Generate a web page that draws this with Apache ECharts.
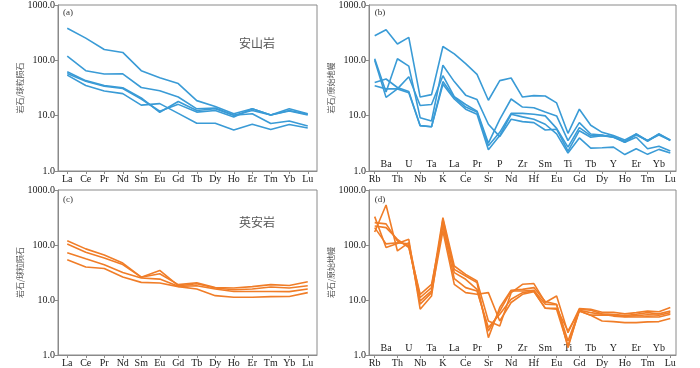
<!DOCTYPE html>
<html>
<head>
<meta charset="utf-8">
<script src="https://cdn.jsdelivr.net/npm/echarts@6/dist/echarts.min.js"></script>
<style>
  html, body { margin: 0; padding: 0; background: #fff; }
  #chart { width: 700px; height: 368px; }
</style>
</head>
<body>
<div id="chart"></div>
<script>
// 稀土元素 (a)(c)
var reeElements = ["La", "Ce", "Pr", "Nd", "Sm", "Eu", "Gd", "Tb", "Dy", "Ho", "Er", "Tm", "Yb", "Lu"];
// 微量元素蛛网图 (b)(d)
var traceElements = ["Rb", "Ba", "Th", "U", "Nb", "Ta", "K", "La", "Ce", "Pr", "Sr", "P", "Nd", "Zr", "Hf",
  "Sm", "Eu", "Ti", "Gd", "Tb", "Dy", "Y", "Ho", "Er", "Tm", "Yb", "Lu"];
var yTickLabels = ["1.0", "10.0", "100.0", "1000.0"];

// (a) 安山岩 球粒陨石标准化
var andesiteRee = [
  [380, 252, 157, 139, 65, 48.6, 38, 18.7, 14.7, 10.8, 13.3, 10.3, 13.3, 10.8],
  [119, 65, 56.5, 57, 32.3, 28.2, 21.7, 13.3, 13.8, 10.2, 10.8, 7.2, 8.0, 6.5],
  [62, 43, 35, 32, 21, 11.5, 18, 12.4, 13.3, 10.2, 12.4, 10.3, 12.4, 10.6],
  [58, 42, 34, 31, 20, 12, 16, 11.6, 12.4, 9.5, 13.3, 10.3, 12.1, 10.3],
  [54, 35, 28, 25, 15.5, 16.5, 11, 7.3, 7.3, 5.5, 7.0, 5.6, 6.9, 6.0]
];
// (b) 安山岩 原始地幔标准化
var andesiteTrace = [
  [278, 356, 197, 260, 21.7, 24, 178, 131, 87, 55.6, 19, 43, 48, 21.7, 23, 22.7, 17, 4.8, 13.1, 6.7, 5.0, 4.36, 3.65, 4.67, 3.55, 4.67, 3.65],
  [107, 26.7, 107, 78.4, 9.2, 8.0, 81.6, 41.3, 23.5, 19.5, 7.0, 4.18, 8.6, 7.8, 7.5, 5.5, 5.7, 2.29, 5.35, 4.07, 4.36, 4.07, 3.31, 4.07, 2.53, 2.81, 2.29],
  [100, 21.4, 30.5, 50.6, 15.3, 15.9, 52.7, 22, 15.9, 12.1, 3.18, 8.6, 20, 14.3, 13.9, 11.6, 9.9, 3.55, 7.5, 4.67, 4.48, 4.07, 3.45, 4.48, 3.55, 4.48, 3.6],
  [39.6, 46, 32.3, 27.4, 6.6, 6.3, 41.3, 21.4, 14.3, 11.6, 2.86, 5.0, 11.0, 11.0, 10.6, 9.9, 5.9, 2.7, 6.1, 4.36, 4.36, 4.18, 3.31, 4.67, 3.45, 4.67, 3.55],
  [34.6, 30.5, 30.5, 26, 6.6, 6.3, 37, 20, 13.1, 10.6, 2.43, 4.36, 10.6, 9.5, 8.6, 7.0, 4.67, 2.11, 3.96, 2.59, 2.63, 2.7, 1.98, 2.53, 2.0, 2.46, 2.11]
];
// (c) 英安岩 球粒陨石标准化
var daciteRee = [
  [120, 85, 66, 47, 26, 30, 19, 20.6, 16.9, 16.5, 17.5, 19, 18.4, 21.5],
  [104, 74, 58, 44, 26, 34.4, 18.2, 19.8, 16.5, 15.4, 15.8, 17.2, 16.5, 18.2],
  [72, 56, 43.7, 31.7, 25.1, 24, 17.7, 18.2, 15.8, 14.3, 14.3, 14.3, 14.2, 15.8],
  [53.8, 39.7, 37.4, 26.1, 20.9, 20.4, 17.5, 15.8, 12, 11.2, 11.2, 11.5, 11.6, 13.6]
];
// (d) 英安岩 原始地幔标准化
var daciteTrace = [
  [172, 533, 78, 110, 11.1, 16.8, 315, 41.5, 29.3, 22.2, 4.15, 3.37, 13.6, 19.3, 19.9, 9.0, 11.8, 2.55, 7.0, 6.8, 6.0, 6.0, 5.6, 5.9, 6.3, 6.1, 7.3],
  [328, 90, 106, 127, 6.8, 11.8, 293, 36.1, 27.3, 20.7, 2.07, 7.3, 15, 15.6, 16.8, 9.4, 8.4, 1.36, 6.8, 6.5, 5.6, 5.5, 5.2, 5.5, 5.9, 5.6, 6.3],
  [255, 242, 118, 96, 9.6, 14.6, 255, 31.5, 23.8, 15.6, 2.73, 6.3, 14.6, 14.6, 15, 8.4, 8.2, 1.8, 6.5, 5.9, 5.5, 5.1, 4.9, 4.9, 4.95, 4.9, 5.5],
  [221, 207, 127, 90, 12.7, 19.3, 221, 24.5, 16.8, 14.6, 3.15, 5.5, 10.3, 13.6, 14.6, 7.1, 7.1, 2.73, 6.3, 5.3, 4.15, 4.05, 3.88, 3.88, 4.0, 4.05, 4.6],
  [207, 105, 110, 105, 8.4, 13.6, 180, 19.3, 13.6, 12.7, 13.6, 4.15, 9.0, 12.7, 14.2, 7.1, 6.8, 1.47, 6.3, 5.3, 5.3, 5.3, 5.0, 5.2, 5.4, 5.3, 5.9]
];

var blue = "#3a9bd6";
var orange = "#f07d28";
var frameColor = "#8a8a8a";
var textColor = "#1a1a1a";
var serif = "'Liberation Serif', 'DejaVu Serif', serif";
var cjk = "'Noto Sans CJK SC', sans-serif";

// 四个图的位置
var grids = [
  { left: 58, top: 2, width: 259, height: 169 },
  { left: 369, top: 2, width: 307, height: 169 },
  { left: 58, top: 190, width: 259, height: 166 },
  { left: 369, top: 190, width: 307, height: 165 }
];

function catAxis(gridIndex, data, opts) {
  var axis = {
    type: "category",
    gridIndex: gridIndex,
    position: "bottom",
    data: data,
    boundaryGap: true,
    axisLine: { show: true, onZero: false, lineStyle: { color: frameColor, width: 1 } },
    axisTick: { show: true, alignWithLabel: true, length: 3, lineStyle: { color: frameColor } },
    axisLabel: { color: textColor, fontFamily: serif, fontSize: 10, margin: 3 },
    splitLine: { show: false }
  };
  if (opts) {
    for (var k in opts) axis[k] = opts[k];
  }
  return axis;
}

function logAxis(gridIndex, name, gap) {
  return {
    type: "log",
    logBase: 10,
    gridIndex: gridIndex,
    min: 1,
    max: 1000,
    name: name,
    nameLocation: "middle",
    nameGap: gap,
    nameRotate: 90,
    nameTextStyle: { color: "#555", fontFamily: cjk, fontSize: 8 },
    axisLine: { show: true, lineStyle: { color: frameColor, width: 1 } },
    axisTick: { show: true, length: 3, lineStyle: { color: frameColor } },
    axisLabel: {
      color: textColor, fontFamily: serif, fontSize: 10, margin: 3,
      formatter: function (v) {
        var i = Math.round(Math.log10(v));
        return yTickLabels[i];
      }
    },
    splitLine: { show: false }
  };
}

var xAxes = [
  catAxis(0, reeElements),
  // 蛛网图：下排标签
  catAxis(1, traceElements, {
    axisLabel: { color: textColor, fontFamily: serif, fontSize: 10, margin: 3,
      interval: function (i) { return i % 2 === 0; } }
  }),
  // 蛛网图：上排标签（在坐标区内）
  catAxis(1, traceElements, {
    axisLine: { show: false, onZero: false },
    axisTick: { show: false },
    axisLabel: { color: textColor, fontFamily: serif, fontSize: 10, margin: 2, inside: true,
      interval: function (i) { return i % 2 === 1; } }
  }),
  catAxis(2, reeElements),
  catAxis(3, traceElements, {
    axisLabel: { color: textColor, fontFamily: serif, fontSize: 10, margin: 3,
      interval: function (i) { return i % 2 === 0; } }
  }),
  catAxis(3, traceElements, {
    axisLine: { show: false, onZero: false },
    axisTick: { show: false },
    axisLabel: { color: textColor, fontFamily: serif, fontSize: 10, margin: 2, inside: true,
      interval: function (i) { return i % 2 === 1; } }
  })
];

var yAxes = [
  logAxis(0, "岩石/球粒陨石", 32),
  logAxis(1, "岩石/原始地幔", 28),
  logAxis(2, "岩石/球粒陨石", 32),
  logAxis(3, "岩石/原始地幔", 28)
];

var series = [];
function addLines(list, xIdx, yIdx, color) {
  list.forEach(function (row) {
    series.push({
      type: "line",
      xAxisIndex: xIdx,
      yAxisIndex: yIdx,
      data: row,
      symbol: "none",
      lineStyle: { color: color, width: 1.6 },
      silent: true
    });
  });
}
addLines(andesiteRee, 0, 0, blue);
addLines(andesiteTrace, 1, 1, blue);
addLines(daciteRee, 3, 2, orange);
addLines(daciteTrace, 4, 3, orange);

function label(x, y, text, size, font, color) {
  return {
    type: "text", x: x, y: y,
    style: { text: text, fill: color || "#333", font: size + "px " + font, textAlign: "center", textVerticalAlign: "middle" }
  };
}

var option = {
  animation: false,
  grid: grids.map(function (g) {
    return { left: g.left, top: g.top, width: g.width, height: g.height,
      show: true, borderColor: frameColor, borderWidth: 1, backgroundColor: "transparent" };
  }),
  xAxis: xAxes,
  yAxis: yAxes,
  series: series,
  graphic: [
    label(68, 13, "(a)", 9, serif),
    label(380, 13, "(b)", 9, serif),
    label(68, 200, "(c)", 9, serif),
    label(380, 200, "(d)", 9, serif),
    label(257, 43, "安山岩", 12, cjk, "#555"),
    label(257, 222, "英安岩", 12, cjk, "#555")
  ]
};

var chart = echarts.init(document.getElementById("chart"));
chart.setOption(option);
</script>
</body>
</html>
